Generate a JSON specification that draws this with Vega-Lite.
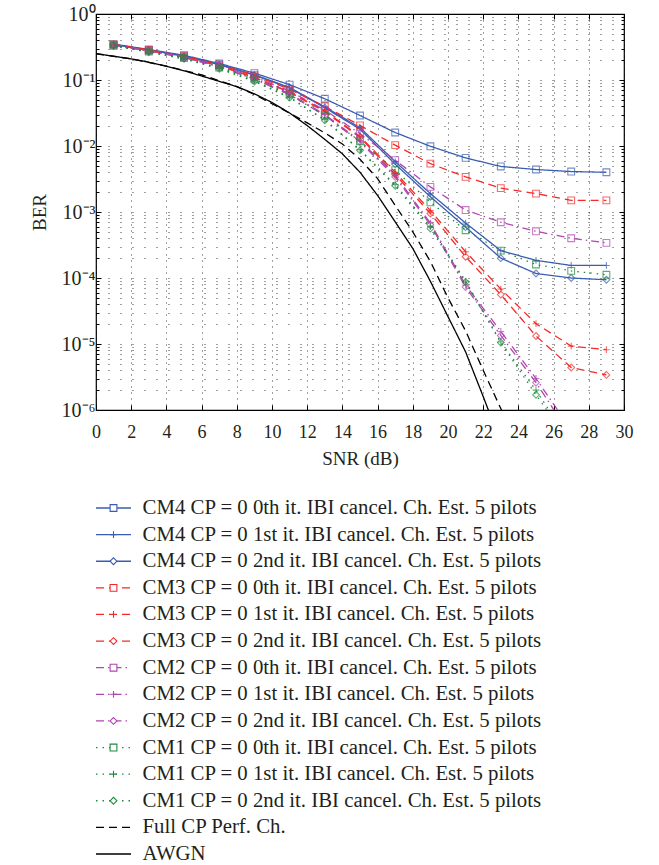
{
  "$schema": "https://vega.github.io/schema/vega-lite/v6.json",
  "padding": {"left": 29, "top": 3, "right": 5, "bottom": 0},
  "background": "white",
  "spacing": 28,
  "config": {
    "font": "Liberation Serif",
    "view": {"stroke": "black", "strokeWidth": 1.2},
    "axis": {"labelFont": "Liberation Serif", "titleFont": "Liberation Serif", "labelColor": "#231f20", "titleColor": "#231f20", "titleFontWeight": "normal", "domainColor": "black", "tickColor": "black", "labelFlush": false, "labelOverlap": false}
  },
  "datasets": {
    "ber": [
      {"series": "CM4 CP = 0 0th it. IBI cancel. Ch. Est. 5 pilots", "snr": 1, "ber": 0.35},
      {"series": "CM4 CP = 0 0th it. IBI cancel. Ch. Est. 5 pilots", "snr": 3, "ber": 0.29},
      {"series": "CM4 CP = 0 0th it. IBI cancel. Ch. Est. 5 pilots", "snr": 5, "ber": 0.237},
      {"series": "CM4 CP = 0 0th it. IBI cancel. Ch. Est. 5 pilots", "snr": 7, "ber": 0.178},
      {"series": "CM4 CP = 0 0th it. IBI cancel. Ch. Est. 5 pilots", "snr": 9, "ber": 0.127},
      {"series": "CM4 CP = 0 0th it. IBI cancel. Ch. Est. 5 pilots", "snr": 11, "ber": 0.085},
      {"series": "CM4 CP = 0 0th it. IBI cancel. Ch. Est. 5 pilots", "snr": 13, "ber": 0.052},
      {"series": "CM4 CP = 0 0th it. IBI cancel. Ch. Est. 5 pilots", "snr": 15, "ber": 0.029},
      {"series": "CM4 CP = 0 0th it. IBI cancel. Ch. Est. 5 pilots", "snr": 17, "ber": 0.016},
      {"series": "CM4 CP = 0 0th it. IBI cancel. Ch. Est. 5 pilots", "snr": 19, "ber": 0.0099},
      {"series": "CM4 CP = 0 0th it. IBI cancel. Ch. Est. 5 pilots", "snr": 21, "ber": 0.0066},
      {"series": "CM4 CP = 0 0th it. IBI cancel. Ch. Est. 5 pilots", "snr": 23, "ber": 0.0049},
      {"series": "CM4 CP = 0 0th it. IBI cancel. Ch. Est. 5 pilots", "snr": 25, "ber": 0.0044},
      {"series": "CM4 CP = 0 0th it. IBI cancel. Ch. Est. 5 pilots", "snr": 27, "ber": 0.0041},
      {"series": "CM4 CP = 0 0th it. IBI cancel. Ch. Est. 5 pilots", "snr": 29, "ber": 0.004},

      {"series": "CM4 CP = 0 1st it. IBI cancel. Ch. Est. 5 pilots", "snr": 1, "ber": 0.345},
      {"series": "CM4 CP = 0 1st it. IBI cancel. Ch. Est. 5 pilots", "snr": 3, "ber": 0.285},
      {"series": "CM4 CP = 0 1st it. IBI cancel. Ch. Est. 5 pilots", "snr": 5, "ber": 0.23},
      {"series": "CM4 CP = 0 1st it. IBI cancel. Ch. Est. 5 pilots", "snr": 7, "ber": 0.172},
      {"series": "CM4 CP = 0 1st it. IBI cancel. Ch. Est. 5 pilots", "snr": 9, "ber": 0.12},
      {"series": "CM4 CP = 0 1st it. IBI cancel. Ch. Est. 5 pilots", "snr": 11, "ber": 0.077},
      {"series": "CM4 CP = 0 1st it. IBI cancel. Ch. Est. 5 pilots", "snr": 13, "ber": 0.039},
      {"series": "CM4 CP = 0 1st it. IBI cancel. Ch. Est. 5 pilots", "snr": 15, "ber": 0.019},
      {"series": "CM4 CP = 0 1st it. IBI cancel. Ch. Est. 5 pilots", "snr": 17, "ber": 0.0058},
      {"series": "CM4 CP = 0 1st it. IBI cancel. Ch. Est. 5 pilots", "snr": 19, "ber": 0.0019},
      {"series": "CM4 CP = 0 1st it. IBI cancel. Ch. Est. 5 pilots", "snr": 21, "ber": 0.00068},
      {"series": "CM4 CP = 0 1st it. IBI cancel. Ch. Est. 5 pilots", "snr": 23, "ber": 0.00026},
      {"series": "CM4 CP = 0 1st it. IBI cancel. Ch. Est. 5 pilots", "snr": 25, "ber": 0.000185},
      {"series": "CM4 CP = 0 1st it. IBI cancel. Ch. Est. 5 pilots", "snr": 27, "ber": 0.000155},
      {"series": "CM4 CP = 0 1st it. IBI cancel. Ch. Est. 5 pilots", "snr": 29, "ber": 0.000155},

      {"series": "CM4 CP = 0 2nd it. IBI cancel. Ch. Est. 5 pilots", "snr": 1, "ber": 0.345},
      {"series": "CM4 CP = 0 2nd it. IBI cancel. Ch. Est. 5 pilots", "snr": 3, "ber": 0.285},
      {"series": "CM4 CP = 0 2nd it. IBI cancel. Ch. Est. 5 pilots", "snr": 5, "ber": 0.23},
      {"series": "CM4 CP = 0 2nd it. IBI cancel. Ch. Est. 5 pilots", "snr": 7, "ber": 0.171},
      {"series": "CM4 CP = 0 2nd it. IBI cancel. Ch. Est. 5 pilots", "snr": 9, "ber": 0.118},
      {"series": "CM4 CP = 0 2nd it. IBI cancel. Ch. Est. 5 pilots", "snr": 11, "ber": 0.076},
      {"series": "CM4 CP = 0 2nd it. IBI cancel. Ch. Est. 5 pilots", "snr": 13, "ber": 0.038},
      {"series": "CM4 CP = 0 2nd it. IBI cancel. Ch. Est. 5 pilots", "snr": 15, "ber": 0.018},
      {"series": "CM4 CP = 0 2nd it. IBI cancel. Ch. Est. 5 pilots", "snr": 17, "ber": 0.0053},
      {"series": "CM4 CP = 0 2nd it. IBI cancel. Ch. Est. 5 pilots", "snr": 19, "ber": 0.0017},
      {"series": "CM4 CP = 0 2nd it. IBI cancel. Ch. Est. 5 pilots", "snr": 21, "ber": 0.00059},
      {"series": "CM4 CP = 0 2nd it. IBI cancel. Ch. Est. 5 pilots", "snr": 23, "ber": 0.0002},
      {"series": "CM4 CP = 0 2nd it. IBI cancel. Ch. Est. 5 pilots", "snr": 25, "ber": 0.000117},
      {"series": "CM4 CP = 0 2nd it. IBI cancel. Ch. Est. 5 pilots", "snr": 27, "ber": 0.0001},
      {"series": "CM4 CP = 0 2nd it. IBI cancel. Ch. Est. 5 pilots", "snr": 29, "ber": 0.000094},

      {"series": "CM3 CP = 0 0th it. IBI cancel. Ch. Est. 5 pilots", "snr": 1, "ber": 0.345},
      {"series": "CM3 CP = 0 0th it. IBI cancel. Ch. Est. 5 pilots", "snr": 3, "ber": 0.285},
      {"series": "CM3 CP = 0 0th it. IBI cancel. Ch. Est. 5 pilots", "snr": 5, "ber": 0.23},
      {"series": "CM3 CP = 0 0th it. IBI cancel. Ch. Est. 5 pilots", "snr": 7, "ber": 0.17},
      {"series": "CM3 CP = 0 0th it. IBI cancel. Ch. Est. 5 pilots", "snr": 9, "ber": 0.118},
      {"series": "CM3 CP = 0 0th it. IBI cancel. Ch. Est. 5 pilots", "snr": 11, "ber": 0.072},
      {"series": "CM3 CP = 0 0th it. IBI cancel. Ch. Est. 5 pilots", "snr": 13, "ber": 0.04},
      {"series": "CM3 CP = 0 0th it. IBI cancel. Ch. Est. 5 pilots", "snr": 15, "ber": 0.0205},
      {"series": "CM3 CP = 0 0th it. IBI cancel. Ch. Est. 5 pilots", "snr": 17, "ber": 0.0103},
      {"series": "CM3 CP = 0 0th it. IBI cancel. Ch. Est. 5 pilots", "snr": 19, "ber": 0.0054},
      {"series": "CM3 CP = 0 0th it. IBI cancel. Ch. Est. 5 pilots", "snr": 21, "ber": 0.0034},
      {"series": "CM3 CP = 0 0th it. IBI cancel. Ch. Est. 5 pilots", "snr": 23, "ber": 0.0023},
      {"series": "CM3 CP = 0 0th it. IBI cancel. Ch. Est. 5 pilots", "snr": 25, "ber": 0.0019},
      {"series": "CM3 CP = 0 0th it. IBI cancel. Ch. Est. 5 pilots", "snr": 27, "ber": 0.0015},
      {"series": "CM3 CP = 0 0th it. IBI cancel. Ch. Est. 5 pilots", "snr": 29, "ber": 0.0015},

      {"series": "CM3 CP = 0 1st it. IBI cancel. Ch. Est. 5 pilots", "snr": 1, "ber": 0.34},
      {"series": "CM3 CP = 0 1st it. IBI cancel. Ch. Est. 5 pilots", "snr": 3, "ber": 0.28},
      {"series": "CM3 CP = 0 1st it. IBI cancel. Ch. Est. 5 pilots", "snr": 5, "ber": 0.225},
      {"series": "CM3 CP = 0 1st it. IBI cancel. Ch. Est. 5 pilots", "snr": 7, "ber": 0.165},
      {"series": "CM3 CP = 0 1st it. IBI cancel. Ch. Est. 5 pilots", "snr": 9, "ber": 0.11},
      {"series": "CM3 CP = 0 1st it. IBI cancel. Ch. Est. 5 pilots", "snr": 11, "ber": 0.066},
      {"series": "CM3 CP = 0 1st it. IBI cancel. Ch. Est. 5 pilots", "snr": 13, "ber": 0.034},
      {"series": "CM3 CP = 0 1st it. IBI cancel. Ch. Est. 5 pilots", "snr": 15, "ber": 0.014},
      {"series": "CM3 CP = 0 1st it. IBI cancel. Ch. Est. 5 pilots", "snr": 17, "ber": 0.004},
      {"series": "CM3 CP = 0 1st it. IBI cancel. Ch. Est. 5 pilots", "snr": 19, "ber": 0.00105},
      {"series": "CM3 CP = 0 1st it. IBI cancel. Ch. Est. 5 pilots", "snr": 21, "ber": 0.00025},
      {"series": "CM3 CP = 0 1st it. IBI cancel. Ch. Est. 5 pilots", "snr": 23, "ber": 0.000068},
      {"series": "CM3 CP = 0 1st it. IBI cancel. Ch. Est. 5 pilots", "snr": 25, "ber": 0.0000203},
      {"series": "CM3 CP = 0 1st it. IBI cancel. Ch. Est. 5 pilots", "snr": 27, "ber": 0.0000093},
      {"series": "CM3 CP = 0 1st it. IBI cancel. Ch. Est. 5 pilots", "snr": 29, "ber": 0.0000082},

      {"series": "CM3 CP = 0 2nd it. IBI cancel. Ch. Est. 5 pilots", "snr": 1, "ber": 0.34},
      {"series": "CM3 CP = 0 2nd it. IBI cancel. Ch. Est. 5 pilots", "snr": 3, "ber": 0.28},
      {"series": "CM3 CP = 0 2nd it. IBI cancel. Ch. Est. 5 pilots", "snr": 5, "ber": 0.224},
      {"series": "CM3 CP = 0 2nd it. IBI cancel. Ch. Est. 5 pilots", "snr": 7, "ber": 0.164},
      {"series": "CM3 CP = 0 2nd it. IBI cancel. Ch. Est. 5 pilots", "snr": 9, "ber": 0.109},
      {"series": "CM3 CP = 0 2nd it. IBI cancel. Ch. Est. 5 pilots", "snr": 11, "ber": 0.065},
      {"series": "CM3 CP = 0 2nd it. IBI cancel. Ch. Est. 5 pilots", "snr": 13, "ber": 0.033},
      {"series": "CM3 CP = 0 2nd it. IBI cancel. Ch. Est. 5 pilots", "snr": 15, "ber": 0.0135},
      {"series": "CM3 CP = 0 2nd it. IBI cancel. Ch. Est. 5 pilots", "snr": 17, "ber": 0.0037},
      {"series": "CM3 CP = 0 2nd it. IBI cancel. Ch. Est. 5 pilots", "snr": 19, "ber": 0.00095},
      {"series": "CM3 CP = 0 2nd it. IBI cancel. Ch. Est. 5 pilots", "snr": 21, "ber": 0.00021},
      {"series": "CM3 CP = 0 2nd it. IBI cancel. Ch. Est. 5 pilots", "snr": 23, "ber": 0.000056},
      {"series": "CM3 CP = 0 2nd it. IBI cancel. Ch. Est. 5 pilots", "snr": 25, "ber": 0.0000132},
      {"series": "CM3 CP = 0 2nd it. IBI cancel. Ch. Est. 5 pilots", "snr": 27, "ber": 0.0000044},
      {"series": "CM3 CP = 0 2nd it. IBI cancel. Ch. Est. 5 pilots", "snr": 29, "ber": 0.0000034},

      {"series": "CM2 CP = 0 0th it. IBI cancel. Ch. Est. 5 pilots", "snr": 1, "ber": 0.34},
      {"series": "CM2 CP = 0 0th it. IBI cancel. Ch. Est. 5 pilots", "snr": 3, "ber": 0.28},
      {"series": "CM2 CP = 0 0th it. IBI cancel. Ch. Est. 5 pilots", "snr": 5, "ber": 0.225},
      {"series": "CM2 CP = 0 0th it. IBI cancel. Ch. Est. 5 pilots", "snr": 7, "ber": 0.165},
      {"series": "CM2 CP = 0 0th it. IBI cancel. Ch. Est. 5 pilots", "snr": 9, "ber": 0.112},
      {"series": "CM2 CP = 0 0th it. IBI cancel. Ch. Est. 5 pilots", "snr": 11, "ber": 0.068},
      {"series": "CM2 CP = 0 0th it. IBI cancel. Ch. Est. 5 pilots", "snr": 13, "ber": 0.035},
      {"series": "CM2 CP = 0 0th it. IBI cancel. Ch. Est. 5 pilots", "snr": 15, "ber": 0.0154},
      {"series": "CM2 CP = 0 0th it. IBI cancel. Ch. Est. 5 pilots", "snr": 17, "ber": 0.0061},
      {"series": "CM2 CP = 0 0th it. IBI cancel. Ch. Est. 5 pilots", "snr": 19, "ber": 0.0024},
      {"series": "CM2 CP = 0 0th it. IBI cancel. Ch. Est. 5 pilots", "snr": 21, "ber": 0.00107},
      {"series": "CM2 CP = 0 0th it. IBI cancel. Ch. Est. 5 pilots", "snr": 23, "ber": 0.0007},
      {"series": "CM2 CP = 0 0th it. IBI cancel. Ch. Est. 5 pilots", "snr": 25, "ber": 0.00051},
      {"series": "CM2 CP = 0 0th it. IBI cancel. Ch. Est. 5 pilots", "snr": 27, "ber": 0.0004},
      {"series": "CM2 CP = 0 0th it. IBI cancel. Ch. Est. 5 pilots", "snr": 29, "ber": 0.00034},

      {"series": "CM2 CP = 0 1st it. IBI cancel. Ch. Est. 5 pilots", "snr": 1, "ber": 0.335},
      {"series": "CM2 CP = 0 1st it. IBI cancel. Ch. Est. 5 pilots", "snr": 3, "ber": 0.275},
      {"series": "CM2 CP = 0 1st it. IBI cancel. Ch. Est. 5 pilots", "snr": 5, "ber": 0.22},
      {"series": "CM2 CP = 0 1st it. IBI cancel. Ch. Est. 5 pilots", "snr": 7, "ber": 0.16},
      {"series": "CM2 CP = 0 1st it. IBI cancel. Ch. Est. 5 pilots", "snr": 9, "ber": 0.105},
      {"series": "CM2 CP = 0 1st it. IBI cancel. Ch. Est. 5 pilots", "snr": 11, "ber": 0.062},
      {"series": "CM2 CP = 0 1st it. IBI cancel. Ch. Est. 5 pilots", "snr": 13, "ber": 0.03},
      {"series": "CM2 CP = 0 1st it. IBI cancel. Ch. Est. 5 pilots", "snr": 15, "ber": 0.012},
      {"series": "CM2 CP = 0 1st it. IBI cancel. Ch. Est. 5 pilots", "snr": 17, "ber": 0.0036},
      {"series": "CM2 CP = 0 1st it. IBI cancel. Ch. Est. 5 pilots", "snr": 19, "ber": 0.00068},
      {"series": "CM2 CP = 0 1st it. IBI cancel. Ch. Est. 5 pilots", "snr": 21, "ber": 0.000078},
      {"series": "CM2 CP = 0 1st it. IBI cancel. Ch. Est. 5 pilots", "snr": 23, "ber": 0.0000155},
      {"series": "CM2 CP = 0 1st it. IBI cancel. Ch. Est. 5 pilots", "snr": 25, "ber": 0.000003},
      {"series": "CM2 CP = 0 1st it. IBI cancel. Ch. Est. 5 pilots", "snr": 27, "ber": 0.0000005},

      {"series": "CM2 CP = 0 2nd it. IBI cancel. Ch. Est. 5 pilots", "snr": 1, "ber": 0.335},
      {"series": "CM2 CP = 0 2nd it. IBI cancel. Ch. Est. 5 pilots", "snr": 3, "ber": 0.275},
      {"series": "CM2 CP = 0 2nd it. IBI cancel. Ch. Est. 5 pilots", "snr": 5, "ber": 0.219},
      {"series": "CM2 CP = 0 2nd it. IBI cancel. Ch. Est. 5 pilots", "snr": 7, "ber": 0.158},
      {"series": "CM2 CP = 0 2nd it. IBI cancel. Ch. Est. 5 pilots", "snr": 9, "ber": 0.103},
      {"series": "CM2 CP = 0 2nd it. IBI cancel. Ch. Est. 5 pilots", "snr": 11, "ber": 0.06},
      {"series": "CM2 CP = 0 2nd it. IBI cancel. Ch. Est. 5 pilots", "snr": 13, "ber": 0.029},
      {"series": "CM2 CP = 0 2nd it. IBI cancel. Ch. Est. 5 pilots", "snr": 15, "ber": 0.0115},
      {"series": "CM2 CP = 0 2nd it. IBI cancel. Ch. Est. 5 pilots", "snr": 17, "ber": 0.0034},
      {"series": "CM2 CP = 0 2nd it. IBI cancel. Ch. Est. 5 pilots", "snr": 19, "ber": 0.00064},
      {"series": "CM2 CP = 0 2nd it. IBI cancel. Ch. Est. 5 pilots", "snr": 21, "ber": 0.000073},
      {"series": "CM2 CP = 0 2nd it. IBI cancel. Ch. Est. 5 pilots", "snr": 23, "ber": 0.0000135},
      {"series": "CM2 CP = 0 2nd it. IBI cancel. Ch. Est. 5 pilots", "snr": 25, "ber": 0.0000026},
      {"series": "CM2 CP = 0 2nd it. IBI cancel. Ch. Est. 5 pilots", "snr": 27, "ber": 0.0000004},

      {"series": "CM1 CP = 0 0th it. IBI cancel. Ch. Est. 5 pilots", "snr": 1, "ber": 0.33},
      {"series": "CM1 CP = 0 0th it. IBI cancel. Ch. Est. 5 pilots", "snr": 3, "ber": 0.27},
      {"series": "CM1 CP = 0 0th it. IBI cancel. Ch. Est. 5 pilots", "snr": 5, "ber": 0.215},
      {"series": "CM1 CP = 0 0th it. IBI cancel. Ch. Est. 5 pilots", "snr": 7, "ber": 0.155},
      {"series": "CM1 CP = 0 0th it. IBI cancel. Ch. Est. 5 pilots", "snr": 9, "ber": 0.102},
      {"series": "CM1 CP = 0 0th it. IBI cancel. Ch. Est. 5 pilots", "snr": 11, "ber": 0.06},
      {"series": "CM1 CP = 0 0th it. IBI cancel. Ch. Est. 5 pilots", "snr": 13, "ber": 0.029},
      {"series": "CM1 CP = 0 0th it. IBI cancel. Ch. Est. 5 pilots", "snr": 15, "ber": 0.0118},
      {"series": "CM1 CP = 0 0th it. IBI cancel. Ch. Est. 5 pilots", "snr": 17, "ber": 0.0043},
      {"series": "CM1 CP = 0 0th it. IBI cancel. Ch. Est. 5 pilots", "snr": 19, "ber": 0.0014},
      {"series": "CM1 CP = 0 0th it. IBI cancel. Ch. Est. 5 pilots", "snr": 21, "ber": 0.00053},
      {"series": "CM1 CP = 0 0th it. IBI cancel. Ch. Est. 5 pilots", "snr": 23, "ber": 0.00026},
      {"series": "CM1 CP = 0 0th it. IBI cancel. Ch. Est. 5 pilots", "snr": 25, "ber": 0.00016},
      {"series": "CM1 CP = 0 0th it. IBI cancel. Ch. Est. 5 pilots", "snr": 27, "ber": 0.000128},
      {"series": "CM1 CP = 0 0th it. IBI cancel. Ch. Est. 5 pilots", "snr": 29, "ber": 0.000112},

      {"series": "CM1 CP = 0 1st it. IBI cancel. Ch. Est. 5 pilots", "snr": 1, "ber": 0.33},
      {"series": "CM1 CP = 0 1st it. IBI cancel. Ch. Est. 5 pilots", "snr": 3, "ber": 0.265},
      {"series": "CM1 CP = 0 1st it. IBI cancel. Ch. Est. 5 pilots", "snr": 5, "ber": 0.21},
      {"series": "CM1 CP = 0 1st it. IBI cancel. Ch. Est. 5 pilots", "snr": 7, "ber": 0.15},
      {"series": "CM1 CP = 0 1st it. IBI cancel. Ch. Est. 5 pilots", "snr": 9, "ber": 0.097},
      {"series": "CM1 CP = 0 1st it. IBI cancel. Ch. Est. 5 pilots", "snr": 11, "ber": 0.055},
      {"series": "CM1 CP = 0 1st it. IBI cancel. Ch. Est. 5 pilots", "snr": 13, "ber": 0.025},
      {"series": "CM1 CP = 0 1st it. IBI cancel. Ch. Est. 5 pilots", "snr": 15, "ber": 0.0088},
      {"series": "CM1 CP = 0 1st it. IBI cancel. Ch. Est. 5 pilots", "snr": 17, "ber": 0.0026},
      {"series": "CM1 CP = 0 1st it. IBI cancel. Ch. Est. 5 pilots", "snr": 19, "ber": 0.0006},
      {"series": "CM1 CP = 0 1st it. IBI cancel. Ch. Est. 5 pilots", "snr": 21, "ber": 0.00009},
      {"series": "CM1 CP = 0 1st it. IBI cancel. Ch. Est. 5 pilots", "snr": 23, "ber": 0.0000107},
      {"series": "CM1 CP = 0 1st it. IBI cancel. Ch. Est. 5 pilots", "snr": 25, "ber": 0.000002},
      {"series": "CM1 CP = 0 1st it. IBI cancel. Ch. Est. 5 pilots", "snr": 27, "ber": 0.0000003},

      {"series": "CM1 CP = 0 2nd it. IBI cancel. Ch. Est. 5 pilots", "snr": 1, "ber": 0.33},
      {"series": "CM1 CP = 0 2nd it. IBI cancel. Ch. Est. 5 pilots", "snr": 3, "ber": 0.265},
      {"series": "CM1 CP = 0 2nd it. IBI cancel. Ch. Est. 5 pilots", "snr": 5, "ber": 0.21},
      {"series": "CM1 CP = 0 2nd it. IBI cancel. Ch. Est. 5 pilots", "snr": 7, "ber": 0.148},
      {"series": "CM1 CP = 0 2nd it. IBI cancel. Ch. Est. 5 pilots", "snr": 9, "ber": 0.095},
      {"series": "CM1 CP = 0 2nd it. IBI cancel. Ch. Est. 5 pilots", "snr": 11, "ber": 0.054},
      {"series": "CM1 CP = 0 2nd it. IBI cancel. Ch. Est. 5 pilots", "snr": 13, "ber": 0.0245},
      {"series": "CM1 CP = 0 2nd it. IBI cancel. Ch. Est. 5 pilots", "snr": 15, "ber": 0.0086},
      {"series": "CM1 CP = 0 2nd it. IBI cancel. Ch. Est. 5 pilots", "snr": 17, "ber": 0.0025},
      {"series": "CM1 CP = 0 2nd it. IBI cancel. Ch. Est. 5 pilots", "snr": 19, "ber": 0.00056},
      {"series": "CM1 CP = 0 2nd it. IBI cancel. Ch. Est. 5 pilots", "snr": 21, "ber": 0.000087},
      {"series": "CM1 CP = 0 2nd it. IBI cancel. Ch. Est. 5 pilots", "snr": 23, "ber": 0.0000105},
      {"series": "CM1 CP = 0 2nd it. IBI cancel. Ch. Est. 5 pilots", "snr": 25, "ber": 0.0000017},
      {"series": "CM1 CP = 0 2nd it. IBI cancel. Ch. Est. 5 pilots", "snr": 27, "ber": 0.0000003},

      {"series": "Full CP Perf. Ch.", "snr": 0, "ber": 0.25},
      {"series": "Full CP Perf. Ch.", "snr": 2, "ber": 0.209},
      {"series": "Full CP Perf. Ch.", "snr": 4, "ber": 0.162},
      {"series": "Full CP Perf. Ch.", "snr": 6, "ber": 0.12},
      {"series": "Full CP Perf. Ch.", "snr": 8, "ber": 0.0794},
      {"series": "Full CP Perf. Ch.", "snr": 9, "ber": 0.0603},
      {"series": "Full CP Perf. Ch.", "snr": 10, "ber": 0.0437},
      {"series": "Full CP Perf. Ch.", "snr": 11, "ber": 0.0316},
      {"series": "Full CP Perf. Ch.", "snr": 12, "ber": 0.0224},
      {"series": "Full CP Perf. Ch.", "snr": 13, "ber": 0.0158},
      {"series": "Full CP Perf. Ch.", "snr": 14, "ber": 0.0107},
      {"series": "Full CP Perf. Ch.", "snr": 15, "ber": 0.0063},
      {"series": "Full CP Perf. Ch.", "snr": 16, "ber": 0.0032},
      {"series": "Full CP Perf. Ch.", "snr": 17, "ber": 0.00126},
      {"series": "Full CP Perf. Ch.", "snr": 18, "ber": 0.0005},
      {"series": "Full CP Perf. Ch.", "snr": 19, "ber": 0.000178},
      {"series": "Full CP Perf. Ch.", "snr": 20, "ber": 0.00005},
      {"series": "Full CP Perf. Ch.", "snr": 21, "ber": 0.0000158},
      {"series": "Full CP Perf. Ch.", "snr": 22, "ber": 0.000004},
      {"series": "Full CP Perf. Ch.", "snr": 23, "ber": 0.00000105},
      {"series": "Full CP Perf. Ch.", "snr": 24, "ber": 0.00000025},

      {"series": "AWGN", "snr": 0, "ber": 0.251},
      {"series": "AWGN", "snr": 1, "ber": 0.229},
      {"series": "AWGN", "snr": 2, "ber": 0.209},
      {"series": "AWGN", "snr": 3, "ber": 0.186},
      {"series": "AWGN", "snr": 4, "ber": 0.162},
      {"series": "AWGN", "snr": 5, "ber": 0.138},
      {"series": "AWGN", "snr": 6, "ber": 0.115},
      {"series": "AWGN", "snr": 7, "ber": 0.0955},
      {"series": "AWGN", "snr": 8, "ber": 0.0794},
      {"series": "AWGN", "snr": 9, "ber": 0.0617},
      {"series": "AWGN", "snr": 10, "ber": 0.0457},
      {"series": "AWGN", "snr": 11, "ber": 0.0316},
      {"series": "AWGN", "snr": 12, "ber": 0.0204},
      {"series": "AWGN", "snr": 13, "ber": 0.0126},
      {"series": "AWGN", "snr": 14, "ber": 0.0076},
      {"series": "AWGN", "snr": 15, "ber": 0.004},
      {"series": "AWGN", "snr": 16, "ber": 0.00178},
      {"series": "AWGN", "snr": 17, "ber": 0.00071},
      {"series": "AWGN", "snr": 18, "ber": 0.00028},
      {"series": "AWGN", "snr": 19, "ber": 0.000089},
      {"series": "AWGN", "snr": 20, "ber": 0.000026},
      {"series": "AWGN", "snr": 21, "ber": 0.0000076},
      {"series": "AWGN", "snr": 22, "ber": 0.0000016},
      {"series": "AWGN", "snr": 23, "ber": 0.00000032}
    ],
    "legend": [
      {"series": "CM4 CP = 0 0th it. IBI cancel. Ch. Est. 5 pilots"},
      {"series": "CM4 CP = 0 1st it. IBI cancel. Ch. Est. 5 pilots"},
      {"series": "CM4 CP = 0 2nd it. IBI cancel. Ch. Est. 5 pilots"},
      {"series": "CM3 CP = 0 0th it. IBI cancel. Ch. Est. 5 pilots"},
      {"series": "CM3 CP = 0 1st it. IBI cancel. Ch. Est. 5 pilots"},
      {"series": "CM3 CP = 0 2nd it. IBI cancel. Ch. Est. 5 pilots"},
      {"series": "CM2 CP = 0 0th it. IBI cancel. Ch. Est. 5 pilots"},
      {"series": "CM2 CP = 0 1st it. IBI cancel. Ch. Est. 5 pilots"},
      {"series": "CM2 CP = 0 2nd it. IBI cancel. Ch. Est. 5 pilots"},
      {"series": "CM1 CP = 0 0th it. IBI cancel. Ch. Est. 5 pilots"},
      {"series": "CM1 CP = 0 1st it. IBI cancel. Ch. Est. 5 pilots"},
      {"series": "CM1 CP = 0 2nd it. IBI cancel. Ch. Est. 5 pilots"},
      {"series": "Full CP Perf. Ch."},
      {"series": "AWGN"}
    ]
  },
  "vconcat": [
    {
      "width": 528,
      "height": 396,
      "data": {"name": "ber"},
      "resolve": {"scale": {"x": "independent", "y": "independent"}},
      "layer": [
        {
          "encoding": {
            "x": {
              "field": "snr", "type": "quantitative",
              "scale": {"domain": [0, 30], "nice": false},
              "axis": {
                "title": "SNR (dB)", "values": [0,2,4,6,8,10,12,14,16,18,20,22,24,26,28,30],
                "labelOverlap": false, "labelFlush": false, "labelBound": false, "labelSeparation": 0,
                "labelFontSize": 18, "titleFontSize": 19, "labelPadding": 18, "titlePadding": 8,
                "tickSize": -5, "grid": true, "gridColor": "black", "gridDash": [1, 5], "gridOpacity": 0.75,
                "domain": false
              }
            },
            "y": {
              "field": "ber", "type": "quantitative",
              "scale": {"type": "log", "domain": [0.000001, 1], "nice": false},
              "axis": {
                "title": "BER",
                "values": [0.000001,0.000002,0.000003,0.000004,0.000005,0.000006,0.000007,0.000008,0.000009,0.00001,0.00002,0.00003,0.00004,0.00005,0.00006,0.00007,0.00008,0.00009,0.0001,0.0002,0.0003,0.0004,0.0005,0.0006,0.0007,0.0008,0.0009,0.001,0.002,0.003,0.004,0.005,0.006,0.007,0.008,0.009,0.01,0.02,0.03,0.04,0.05,0.06,0.07,0.08,0.09,0.1,0.2,0.3,0.4,0.5,0.6,0.7,0.8,0.9,1],
                "labelExpr": "abs(log(datum.value)/LN10 - round(log(datum.value)/LN10)) < 0.000001 ? ['10⁰','10⁻¹','10⁻²','10⁻³','10⁻⁴','10⁻⁵','10⁻⁶'][-round(log(datum.value)/LN10)] : ''",
                "labelOverlap": false, "labelFlush": false,
                "labelFontSize": 20, "titleFontSize": 19, "labelPadding": 6, "titlePadding": 12,
                "tickSize": {"condition": {"test": "abs(log(datum.value)/LN10 - round(log(datum.value)/LN10)) < 0.000001", "value": -5}, "value": -3},
                "grid": true, "gridColor": "black", "gridDash": [1, 11], "gridOpacity": 0.75,
                "domain": false
              }
            },
            "color": {
              "field": "series", "type": "nominal", "legend": null,
              "scale": {
                "domain": ["CM4 CP = 0 0th it. IBI cancel. Ch. Est. 5 pilots","CM4 CP = 0 1st it. IBI cancel. Ch. Est. 5 pilots","CM4 CP = 0 2nd it. IBI cancel. Ch. Est. 5 pilots","CM3 CP = 0 0th it. IBI cancel. Ch. Est. 5 pilots","CM3 CP = 0 1st it. IBI cancel. Ch. Est. 5 pilots","CM3 CP = 0 2nd it. IBI cancel. Ch. Est. 5 pilots","CM2 CP = 0 0th it. IBI cancel. Ch. Est. 5 pilots","CM2 CP = 0 1st it. IBI cancel. Ch. Est. 5 pilots","CM2 CP = 0 2nd it. IBI cancel. Ch. Est. 5 pilots","CM1 CP = 0 0th it. IBI cancel. Ch. Est. 5 pilots","CM1 CP = 0 1st it. IBI cancel. Ch. Est. 5 pilots","CM1 CP = 0 2nd it. IBI cancel. Ch. Est. 5 pilots","Full CP Perf. Ch.","AWGN"],
                "range": ["#3a5cb2","#3a5cb2","#3a5cb2","#f42a2a","#f42a2a","#f42a2a","#b046b0","#b046b0","#b046b0","#1f8a3e","#1f8a3e","#1f8a3e","#000000","#000000"]
              }
            }
          },
          "layer": [
            {
              "mark": {"type": "line", "clip": true, "strokeWidth": 1.3},
              "encoding": {
                "strokeDash": {
                  "field": "series", "type": "nominal", "legend": null,
                  "scale": {
                    "domain": ["CM4 CP = 0 0th it. IBI cancel. Ch. Est. 5 pilots","CM4 CP = 0 1st it. IBI cancel. Ch. Est. 5 pilots","CM4 CP = 0 2nd it. IBI cancel. Ch. Est. 5 pilots","CM3 CP = 0 0th it. IBI cancel. Ch. Est. 5 pilots","CM3 CP = 0 1st it. IBI cancel. Ch. Est. 5 pilots","CM3 CP = 0 2nd it. IBI cancel. Ch. Est. 5 pilots","CM2 CP = 0 0th it. IBI cancel. Ch. Est. 5 pilots","CM2 CP = 0 1st it. IBI cancel. Ch. Est. 5 pilots","CM2 CP = 0 2nd it. IBI cancel. Ch. Est. 5 pilots","CM1 CP = 0 0th it. IBI cancel. Ch. Est. 5 pilots","CM1 CP = 0 1st it. IBI cancel. Ch. Est. 5 pilots","CM1 CP = 0 2nd it. IBI cancel. Ch. Est. 5 pilots","Full CP Perf. Ch.","AWGN"],
                    "range": [[1,0],[1,0],[1,0],[8,5],[8,5],[8,5],[8,4,1.5,4],[8,4,1.5,4],[8,4,1.5,4],[1.5,5],[1.5,5],[1.5,5],[8,5],[1,0]]
                  }
                }
              }
            },
            {
              "transform": [{"filter": "indexof(datum.series, 'CM') == 0"}],
              "mark": {"type": "point", "clip": true, "filled": false, "size": 46, "strokeWidth": 1.1},
              "encoding": {
                "shape": {
                  "field": "series", "type": "nominal", "legend": null,
                  "scale": {
                    "domain": ["CM4 CP = 0 0th it. IBI cancel. Ch. Est. 5 pilots","CM4 CP = 0 1st it. IBI cancel. Ch. Est. 5 pilots","CM4 CP = 0 2nd it. IBI cancel. Ch. Est. 5 pilots","CM3 CP = 0 0th it. IBI cancel. Ch. Est. 5 pilots","CM3 CP = 0 1st it. IBI cancel. Ch. Est. 5 pilots","CM3 CP = 0 2nd it. IBI cancel. Ch. Est. 5 pilots","CM2 CP = 0 0th it. IBI cancel. Ch. Est. 5 pilots","CM2 CP = 0 1st it. IBI cancel. Ch. Est. 5 pilots","CM2 CP = 0 2nd it. IBI cancel. Ch. Est. 5 pilots","CM1 CP = 0 0th it. IBI cancel. Ch. Est. 5 pilots","CM1 CP = 0 1st it. IBI cancel. Ch. Est. 5 pilots","CM1 CP = 0 2nd it. IBI cancel. Ch. Est. 5 pilots"],
                    "range": ["square","M-1,0L1,0M0,-1L0,1","diamond","square","M-1,0L1,0M0,-1L0,1","diamond","square","M-1,0L1,0M0,-1L0,1","diamond","square","M-1,0L1,0M0,-1L0,1","diamond"]
                  }
                }
              }
            }
          ]
        },
        {
          "mark": {"type": "point", "opacity": 0},
          "encoding": {
            "x": {
              "field": "snr", "type": "quantitative",
              "scale": {"domain": [0, 30], "nice": false},
              "axis": {"orient": "top", "title": null, "labels": false, "values": [0,2,4,6,8,10,12,14,16,18,20,22,24,26,28,30], "tickSize": -5, "grid": false, "domain": false}
            },
            "y": {
              "field": "ber", "type": "quantitative",
              "scale": {"type": "log", "domain": [0.000001, 1], "nice": false},
              "axis": {
                "orient": "right", "title": null, "labels": false, "grid": false, "domain": false,
                "values": [0.000001,0.000002,0.000003,0.000004,0.000005,0.000006,0.000007,0.000008,0.000009,0.00001,0.00002,0.00003,0.00004,0.00005,0.00006,0.00007,0.00008,0.00009,0.0001,0.0002,0.0003,0.0004,0.0005,0.0006,0.0007,0.0008,0.0009,0.001,0.002,0.003,0.004,0.005,0.006,0.007,0.008,0.009,0.01,0.02,0.03,0.04,0.05,0.06,0.07,0.08,0.09,0.1,0.2,0.3,0.4,0.5,0.6,0.7,0.8,0.9,1],
                "tickSize": {"condition": {"test": "abs(log(datum.value)/LN10 - round(log(datum.value)/LN10)) < 0.000001", "value": -5}, "value": -3}
              }
            }
          }
        }
      ]
    },
    {
      "width": 440,
      "height": 346,
      "view": {"stroke": null},
      "data": {"name": "legend"},
      "encoding": {
        "y": {
          "field": "series", "type": "nominal", "axis": null,
          "sort": ["CM4 CP = 0 0th it. IBI cancel. Ch. Est. 5 pilots","CM4 CP = 0 1st it. IBI cancel. Ch. Est. 5 pilots","CM4 CP = 0 2nd it. IBI cancel. Ch. Est. 5 pilots","CM3 CP = 0 0th it. IBI cancel. Ch. Est. 5 pilots","CM3 CP = 0 1st it. IBI cancel. Ch. Est. 5 pilots","CM3 CP = 0 2nd it. IBI cancel. Ch. Est. 5 pilots","CM2 CP = 0 0th it. IBI cancel. Ch. Est. 5 pilots","CM2 CP = 0 1st it. IBI cancel. Ch. Est. 5 pilots","CM2 CP = 0 2nd it. IBI cancel. Ch. Est. 5 pilots","CM1 CP = 0 0th it. IBI cancel. Ch. Est. 5 pilots","CM1 CP = 0 1st it. IBI cancel. Ch. Est. 5 pilots","CM1 CP = 0 2nd it. IBI cancel. Ch. Est. 5 pilots","Full CP Perf. Ch.","AWGN"],
          "scale": {"type": "point", "padding": 0}
        }
      },
      "layer": [
        {
          "mark": {"type": "rule", "strokeWidth": 1.3},
          "encoding": {
            "x": {"datum": 0, "type": "quantitative", "scale": {"domain": [0, 12.57], "nice": false, "zero": false}, "axis": null},
            "x2": {"datum": 1},
            "color": {"field": "series", "type": "nominal", "legend": null},
            "strokeDash": {"field": "series", "type": "nominal", "legend": null}
          }
        },
        {
          "transform": [{"filter": "indexof(datum.series, 'CM') == 0"}],
          "mark": {"type": "point", "filled": false, "size": 46, "strokeWidth": 1.1, "fill": "white", "fillOpacity": 1},
          "encoding": {
            "x": {"datum": 0.5, "type": "quantitative"},
            "color": {"field": "series", "type": "nominal", "legend": null},
            "shape": {"field": "series", "type": "nominal", "legend": null}
          }
        },
        {
          "mark": {"type": "text", "align": "left", "baseline": "middle", "fontSize": 20.8, "font": "Liberation Serif", "color": "#231f20"},
          "encoding": {
            "x": {"datum": 1.33, "type": "quantitative"},
            "text": {"field": "series"}
          }
        }
      ]
    }
  ]
}
